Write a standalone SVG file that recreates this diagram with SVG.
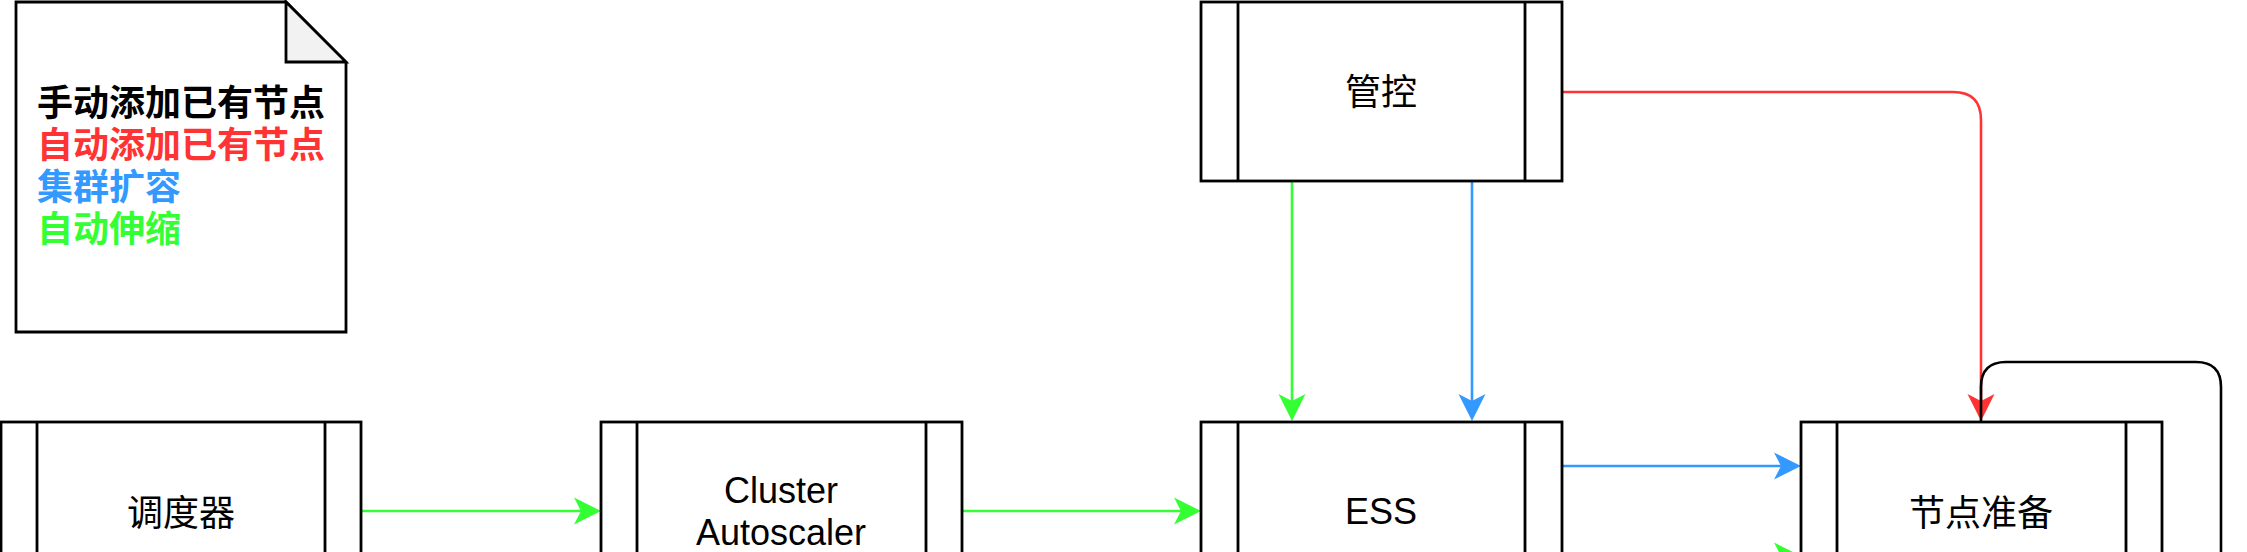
<svg xmlns="http://www.w3.org/2000/svg" width="2247" height="552" viewBox="0 0 2247 552">
<style>
.box{fill:#fff;stroke:#000;stroke-width:2.8}
.band{fill:none;stroke:#000;stroke-width:2.8}
.lbl{font-family:"Noto Sans CJK SC","Liberation Sans",sans-serif;font-size:36px;fill:#000;text-anchor:middle}
.en{font-family:"Liberation Sans","Noto Sans CJK SC",sans-serif;font-size:36px;fill:#000;text-anchor:middle}
.leg{font-family:"Noto Sans CJK SC",sans-serif;font-size:36px;font-weight:bold}
.e{fill:none;stroke-width:2.6}
.g{stroke:#33FF33}
.b{stroke:#3399FF}
.r{stroke:#FF3333}
.k{stroke:#000}
</style>
<defs>
<marker id="ag" markerUnits="userSpaceOnUse" markerWidth="28" markerHeight="28" refX="7" refY="13.5" orient="auto" overflow="visible"><path d="M0,0 L27,13.5 L0,27 L7,13.5 Z" fill="#33FF33"/></marker>
<marker id="ab" markerUnits="userSpaceOnUse" markerWidth="28" markerHeight="28" refX="7" refY="13.5" orient="auto" overflow="visible"><path d="M0,0 L27,13.5 L0,27 L7,13.5 Z" fill="#3399FF"/></marker>
<marker id="ar" markerUnits="userSpaceOnUse" markerWidth="28" markerHeight="28" refX="7" refY="13.5" orient="auto" overflow="visible"><path d="M0,0 L27,13.5 L0,27 L7,13.5 Z" fill="#FF3333"/></marker>
</defs>
<rect width="2247" height="552" fill="#fff"/>

<g id="legend">
<path d="M16,2 L286,2 L346,62 L346,332 L16,332 Z" fill="#fff" stroke="#000" stroke-width="2.8"/>
<path d="M286,2 L286,62 L346,62 Z" fill="#f2f2f2" stroke="#000" stroke-width="2.8" stroke-linejoin="miter"/>
<text class="leg" x="37" y="116" fill="#000">手动添加已有节点</text>
<text class="leg" x="37" y="158" fill="#FF3333">自动添加已有节点</text>
<text class="leg" x="37" y="200" fill="#3399FF">集群扩容</text>
<text class="leg" x="37" y="242" fill="#33FF33">自动伸缩</text>
</g>

<g id="connectors">
<path class="e g" d="M361,511 L581,511" marker-end="url(#ag)"/>
<path class="e g" d="M962,511 L1181,511" marker-end="url(#ag)"/>
<path class="e g" d="M1292,181 L1292,401" marker-end="url(#ag)"/>
<path class="e b" d="M1472,181 L1472,401" marker-end="url(#ab)"/>
<path class="e b" d="M1562,466 L1781,466" marker-end="url(#ab)"/>
<path class="e g" d="M1562,556 L1781,556" marker-end="url(#ag)"/>
<path class="e r" d="M1562,92 L1953,92 Q1981,92 1981,120 L1981,401" marker-end="url(#ar)"/>
<path class="e k" d="M1981,421 L1981,387 Q1981,362 2006,362 L2196,362 Q2221,362 2221,387 L2221,560"/>
</g>

<g id="node-scheduler">
<rect class="box" x="1" y="422" width="360" height="180"/>
<path class="band" d="M37,422 L37,602 M325,422 L325,602"/>
<text class="lbl" x="181" y="526">调度器</text>
</g>

<g id="node-ca">
<rect class="box" x="601" y="422" width="361" height="180"/>
<path class="band" d="M637,422 L637,602 M926,422 L926,602"/>
<text class="en" x="781" y="503">Cluster</text>
<text class="en" x="781" y="545">Autoscaler</text>
</g>

<g id="node-ess">
<rect class="box" x="1201" y="422" width="361" height="180"/>
<path class="band" d="M1238,422 L1238,602 M1525,422 L1525,602"/>
<text class="en" x="1381" y="524">ESS</text>
</g>

<g id="node-control">
<rect class="box" x="1201" y="2" width="361" height="179"/>
<path class="band" d="M1238,2 L1238,181 M1525,2 L1525,181"/>
<text class="lbl" x="1381" y="105">管控</text>
</g>

<g id="node-prepare">
<rect class="box" x="1801" y="422" width="361" height="180"/>
<path class="band" d="M1837,422 L1837,602 M2126,422 L2126,602"/>
<text class="lbl" x="1981" y="526">节点准备</text>
</g>
</svg>
